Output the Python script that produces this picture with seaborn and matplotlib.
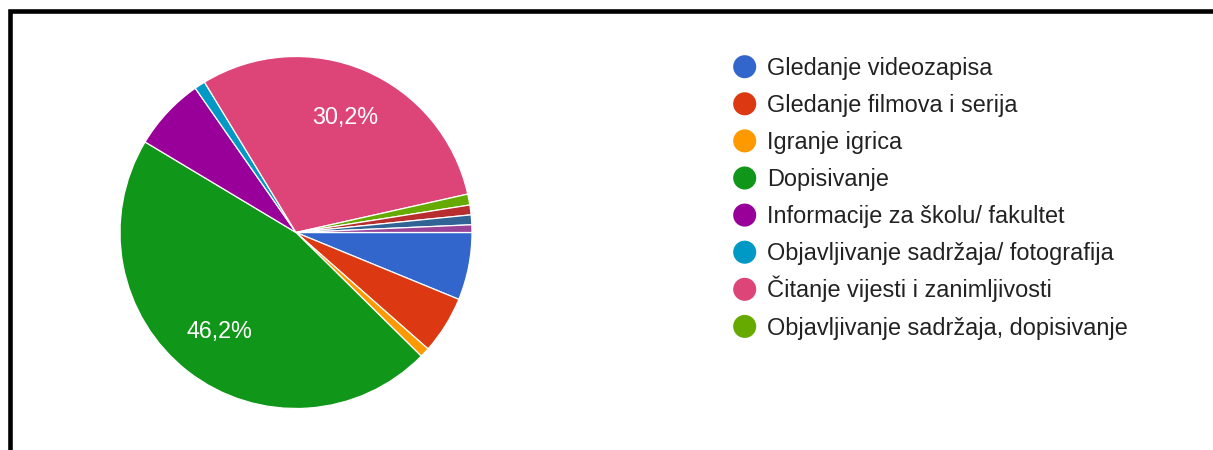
import matplotlib
matplotlib.use("Agg")
import matplotlib.pyplot as plt
import matplotlib.patches as mpatches
import seaborn as sns

# ---- data ----
legend_labels = [
    "Gledanje videozapisa",
    "Gledanje filmova i serija",
    "Igranje igrica",
    "Dopisivanje",
    "Informacije za školu/ fakultet",
    "Objavljivanje sadržaja/ fotografija",
    "Čitanje vijesti i zanimljivosti",
    "Objavljivanje sadržaja, dopisivanje",
]
# shares in %, the last three small slices are not listed in the legend
shares = [6.2, 5.3, 0.9, 46.2, 6.7, 1.0, 30.2, 1.0, 0.9, 0.9, 0.7]
palette = ["#3366cc", "#dc3912", "#ff9900", "#109618", "#990099", "#0099c6",
           "#dd4477", "#66aa00", "#b82e2e", "#316395", "#994499"]

sns.set_theme(style="white")
plt.rcParams["font.family"] = ["Liberation Sans", "DejaVu Sans"]

W, H = 1213, 450
fig = plt.figure(figsize=(W / 100, H / 100), dpi=100)
fig.patch.set_facecolor("white")

# legend layer in pixel coordinates
lax = fig.add_axes([0, 0, 1, 1])
lax.set_xlim(0, W)
lax.set_ylim(H, 0)
lax.axis("off")
lax.patch.set_alpha(0)

colors = sns.color_palette(palette, n_colors=len(shares))

leg_x, leg_y0, leg_pitch = 744.7, 66.7, 37.1
for i, lab in enumerate(legend_labels):
    yc = leg_y0 + i * leg_pitch
    lax.scatter([leg_x], [yc], s=16.6 ** 2, color=colors[i], edgecolors="none")
    lax.text(leg_x + 22.3, yc + 8.2, lab, fontsize=16.9, color="#222222",
             va="baseline", ha="left")

# pie axes: centre ~ (296, 232), radius ~176 px
cx, cy, r = 296, 232.5, 176
ax = fig.add_axes([(cx - r) / W, (H - cy - r) / H, 2 * r / W, 2 * r / H])


def fmt(p):
    return f"{p:.1f}%".replace(".", ",") if p > 10 else ""


wedges, texts, autotexts = ax.pie(
    shares, colors=colors, startangle=0, counterclock=False,
    autopct=fmt, pctdistance=0.71,
    wedgeprops=dict(edgecolor="white", linewidth=0.9),
    textprops=dict(color="white", fontsize=16.8),
)
ax.set_xlim(-1, 1)
ax.set_ylim(-1, 1)
ax.set_aspect("equal")
ax.axis("off")

# screenshot frame (top and left edges)
frame = mpatches.Rectangle((9.5 / W, -0.1), 1.2, (1 - 11 / H) + 0.1,
                           transform=fig.transFigure, fill=False,
                           edgecolor="black", linewidth=3.3, clip_on=False)
fig.add_artist(frame)

fig.savefig("out.png", dpi=100, facecolor="white")
